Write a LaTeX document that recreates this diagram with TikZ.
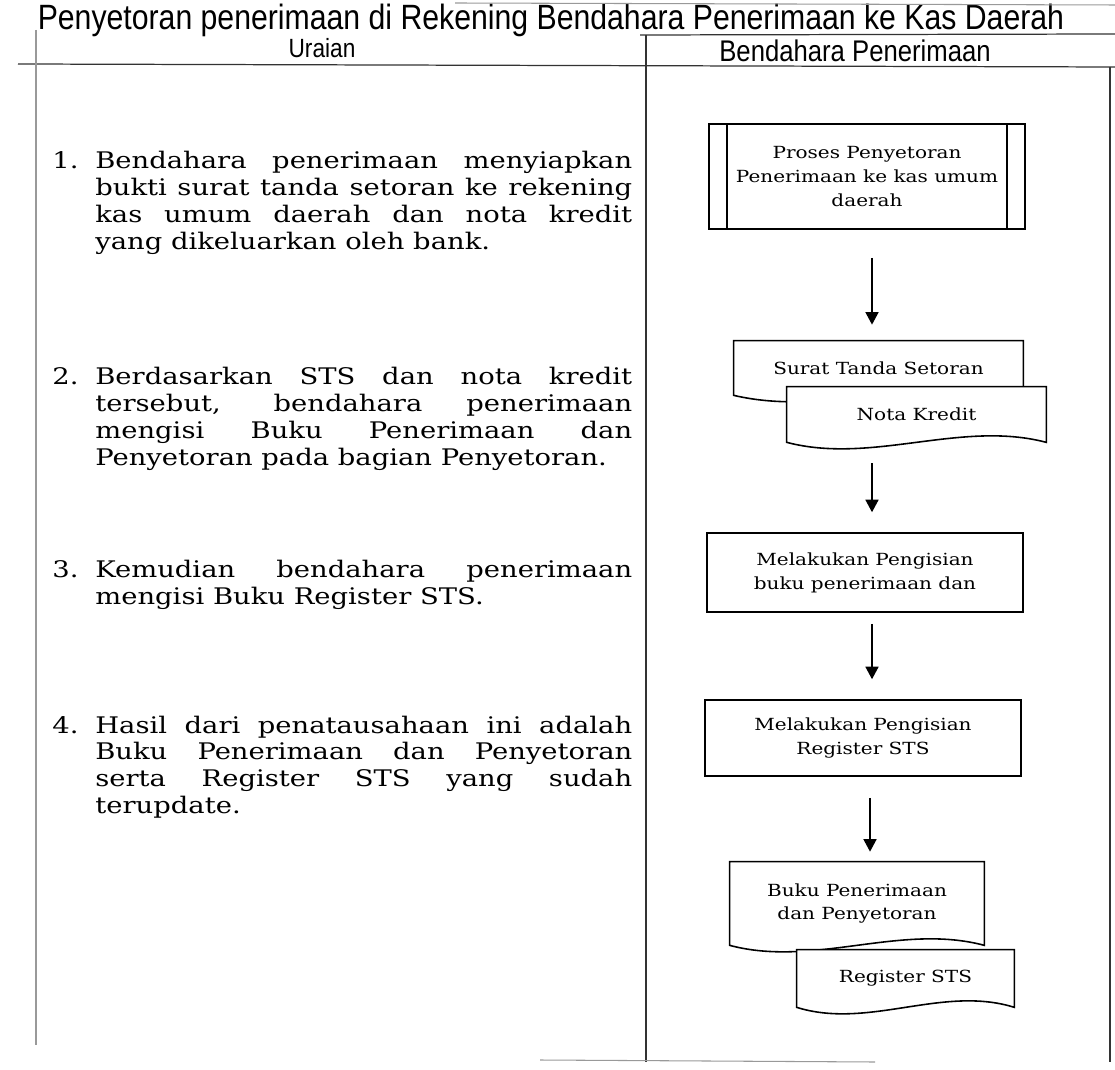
\documentclass[tikz,border=0pt]{standalone}
\usepackage{fontspec}
\setmainfont{DejaVu Serif}
\newfontfamily\bookface{DejaVu Serif}[FakeStretch=1.2]
\newfontfamily\headface{Liberation Sans}[FakeStretch=0.86]
\usepackage{tikz}
\usetikzlibrary{arrows.meta,calc,backgrounds}

% satu baris rata kiri-kanan
\newcommand{\jline}[1]{\makebox[\linewidth][s]{#1}\\}
% kotak dokumen dengan sisi bawah bergelombang
\newcommand{\drawdoc}[1]{%
  \filldraw[docline] (#1.north west) -- (#1.north east) -- (#1.south east)
    .. controls ($(#1.south east)!0.33!(#1.south west)+(0,0.45cm)$)
    and ($(#1.south east)!0.67!(#1.south west)+(0,-0.45cm)$) .. (#1.south west) -- cycle;}

\begin{document}
\begin{tikzpicture}[x=0.02cm,y=-0.02cm,
    >={Triangle[length=0.25cm,width=0.26cm]},
    frame/.style={line width=0.7pt,black!80},
    faint/.style={line width=0.6pt,black!40},
    box/.style={draw,line width=0.9pt,minimum width=6.32cm,align=center,inner sep=0pt,
      font=\bookface\fontsize{9.5}{13.6}\selectfont},
    doc/.style={inner sep=0pt,align=center,font=\bookface\fontsize{9.5}{13.6}\selectfont},
    docline/.style={draw,fill=white,line width=0.9pt},
    flow/.style={->,line width=0.9pt},
    uraian/.style={anchor=base west,inner sep=0pt,font=\bookface\fontsize{13}{15.3}\selectfont}]

    % ukuran gambar
    \useasboundingbox (0,0) rectangle (1115,1070);
    \def\tw{10.74cm}  % lebar teks uraian
    \def\nw{0.86cm}   % lebar nomor

    % judul dan kepala tabel
    \node[anchor=base,inner sep=0pt,font=\headface\fontsize{20}{24}\selectfont] (judul) at (551,30)
        {Penyetoran penerimaan di Rekening Bendahara Penerimaan ke Kas Daerah};
    \node[inner sep=0pt,font=\headface\fontsize{15}{18}\selectfont] (kolA) at (322,48) {Uraian};
    \node[inner sep=0pt,font=\headface\fontsize{17}{19}\selectfont] (kolB) at (855,51) {Bendahara Penerimaan};

    % garis tabel
    \draw[faint] (455,3) -- (1115,5);
    \draw[frame] (640,35) -- (1115,34);
    \draw[frame] (18,64) -- (1115,67);
    \draw[faint] (36,30) -- (36,1045);
    \draw[frame] (646,35) -- (646,1062);
    \draw[frame] (1110,67) -- (1110,1062);
    \draw[faint] (540,1060) -- (875,1062);

    % uraian langkah
    \node[uraian] (it1) at (52,169) {\makebox[\nw][l]{1.}\parbox[t]{\tw}{%
        \jline{Bendahara penerimaan menyiapkan}
        \jline{bukti surat tanda setoran ke rekening}
        \jline{kas umum daerah dan nota kredit}
        yang dikeluarkan oleh bank.}};
    \node[uraian] (it2) at (52,385) {\makebox[\nw][l]{2.}\parbox[t]{\tw}{%
        \jline{Berdasarkan STS dan nota kredit}
        \jline{tersebut, bendahara penerimaan}
        \jline{mengisi Buku Penerimaan dan}
        Penyetoran pada bagian Penyetoran.}};
    \node[uraian] (it3) at (52,578) {\makebox[\nw][l]{3.}\parbox[t]{\tw}{%
        \jline{Kemudian bendahara penerimaan}
        mengisi Buku Register STS.}};
    \node[uraian] (it4) at (52,733) {\makebox[\nw][l]{4.}\parbox[t]{\tw}{%
        \jline{Hasil dari penatausahaan ini adalah}
        \jline{Buku Penerimaan dan Penyetoran}
        \jline{serta Register STS yang sudah}
        terupdate.}};

    % bagan alir bendahara penerimaan
    \node[box,minimum height=2.1cm] (proses) at (867,176.5)
        {Proses Penyetoran\\Penerimaan ke kas umum\\daerah};
    \draw[line width=0.9pt] ([xshift=0.37cm]proses.north west) -- ([xshift=0.37cm]proses.south west);
    \draw[line width=0.9pt] ([xshift=-0.38cm]proses.north east) -- ([xshift=-0.38cm]proses.south east);

    \node[doc,minimum width=5.78cm,minimum height=1.08cm] (sts) at (878.5,368) {Surat Tanda Setoran};
    \node[doc,minimum width=5.18cm,minimum height=1.1cm] (nota) at (916.5,414.5) {Nota Kredit};
    \node[box,minimum height=1.58cm] (isi1) at (865,572.5) {Melakukan Pengisian\\buku penerimaan dan};
    \node[box,minimum height=1.52cm] (isi2) at (863,738) {Melakukan Pengisian\\Register STS};
    \node[doc,minimum width=5.08cm,minimum height=1.66cm] (bku) at (857,903.5) {Buku Penerimaan\\dan Penyetoran};
    \node[doc,minimum width=4.34cm,minimum height=1.14cm] (reg) at (905.5,978.5) {Register STS};

    % bentuk dokumen di belakang teks
    \begin{pgfonlayer}{background}
      \drawdoc{sts}
      \drawdoc{nota}
      \drawdoc{bku}
      \drawdoc{reg}
    \end{pgfonlayer}

    % panah
    \coordinate (jalur) at (872,0);
    \draw[flow,shorten <=0.56cm,shorten >=0.32cm] (proses.south -| jalur) -- (sts.north -| jalur);
    \draw[flow,shorten <=0.42cm,shorten >=0.4cm] (nota.south -| jalur) -- (isi1.north -| jalur);
    \draw[flow,shorten <=0.22cm,shorten >=0.4cm] (isi1.south -| jalur) -- (isi2.north -| jalur);
    \draw[flow,shorten <=0.42cm,shorten >=0.2cm] ([xshift=-0.04cm]isi2.south -| jalur) -- ([xshift=-0.04cm]bku.north -| jalur);
\end{tikzpicture}
\end{document}
